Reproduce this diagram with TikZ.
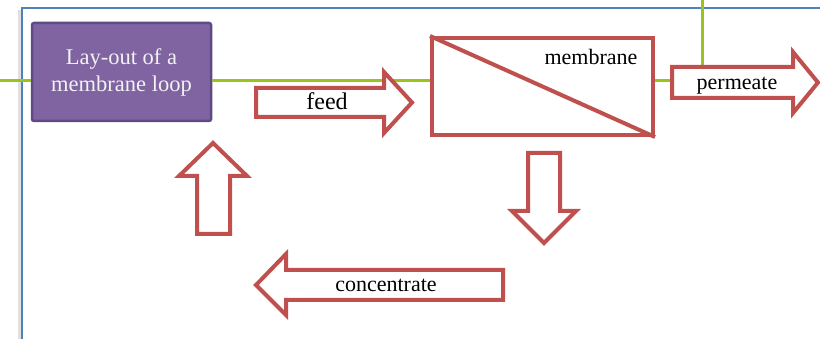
\documentclass[tikz,border=0pt]{standalone}
\usepackage{fontspec}
\setmainfont{Liberation Serif}
\definecolor{loopfill}{HTML}{8064A2}
\definecolor{loopedge}{HTML}{5E4A84}
\definecolor{arrred}{HTML}{C0504D}
\definecolor{framblue}{HTML}{4F81BD}
\definecolor{pipegreen}{HTML}{9AC31C}
\tikzset{
  loopbox/.style={draw=loopedge, line width=2.5pt, fill=loopfill, rounded corners=2pt, text=white!95!black, align=center, inner sep=0pt},
  membbox/.style={draw=arrred, line width=4pt, fill=white, inner sep=0pt},
  blockarr/.style={draw=arrred, line width=4pt, fill=white, line join=miter},
  pipe/.style={draw=pipegreen, line width=3pt},
  lbl/.style={anchor=base, inner sep=0pt, font=\fontsize{22}{27}\selectfont}
}
\begin{document}
\begin{tikzpicture}[x=1pt,y=-1pt]
\useasboundingbox (0,0) rectangle (820,339);
\draw[black!12, line width=3pt] (19,339) -- (19,10);
\draw[framblue, line width=1.5pt] (22,339) -- (22,8) -- (820,8);
\node[loopbox, minimum width=179pt, minimum height=98pt, font=\fontsize{22.5}{27}\selectfont] (loop) at (121.5,72) {Lay-out of a\\membrane loop};
\node[membbox, minimum width=221pt, minimum height=97pt] (membr) at (542.5,86.5) {};
\draw[arrred, line width=4pt] (membr.north west) -- (membr.south east);
\node[lbl] (membrlbl) at (591,65) {membrane};
\coordinate (inlet) at (0,81);
\coordinate (permtail) at (672,81);
\coordinate (permtop) at (702,67);
\coordinate (topedge) at (702,0);
\draw[pipe] (inlet) -- (loop.west |- inlet);
\draw[pipe] (loop.east |- inlet) -- (membr.west |- inlet);
\draw[pipe] (membr.east |- permtail) -- (permtail);
\draw[pipe] (topedge) -- (permtop);
\draw[blockarr] (256,88) -- (384,88) -- (384,72) -- (412,102.5) -- (384,133) -- (384,117) -- (256,117) -- cycle;
\node[lbl, font=\fontsize{24}{30}\selectfont] (feed) at (327,110) {feed};
\draw[blockarr] (672,67) -- (793,67) -- (793,52) -- (818,82.5) -- (793,113) -- (793,98) -- (672,98) -- cycle;
\node[lbl] (perm) at (737,90) {permeate};
\draw[blockarr] (528,153) -- (560,153) -- (560,211) -- (576,211) -- (544,243) -- (512,211) -- (528,211) -- cycle;
\draw[blockarr] (197,234) -- (197,176) -- (179,176) -- (213,143) -- (247,176) -- (230,176) -- (230,234) -- cycle;
\draw[blockarr] (503,270) -- (286,270) -- (286,254) -- (256,285) -- (286,315) -- (286,300) -- (503,300) -- cycle;
\node[lbl] (conc) at (386,292) {concentrate};
\end{tikzpicture}
\end{document}
